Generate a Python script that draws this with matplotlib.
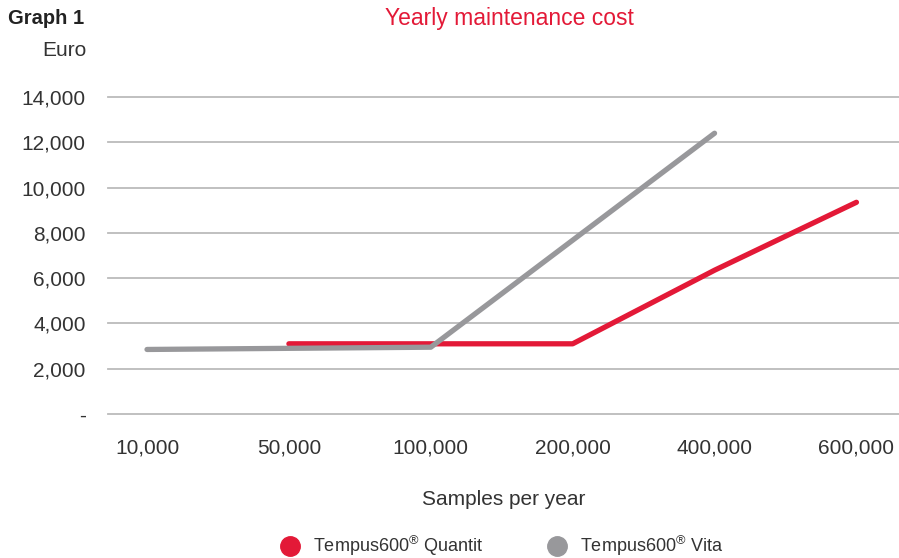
import matplotlib
matplotlib.use("Agg")
import matplotlib.pyplot as plt
from matplotlib.lines import Line2D
import numpy as np

plt.rcParams['font.family'] = ['Liberation Sans', 'DejaVu Sans']
plt.rcParams['mathtext.fontset'] = 'custom'
plt.rcParams['mathtext.rm'] = 'Liberation Sans'

categories = ["10,000", "50,000", "100,000", "200,000", "400,000", "600,000"]
quantit = [np.nan, 3100, 3100, 3100, 6350, 9350]
vita = [2850, 2900, 2950, np.nan, 12400, np.nan]
y_ticks = [0, 2000, 4000, 6000, 8000, 10000, 12000, 14000]
y_labels = ["-", "2,000", "4,000", "6,000", "8,000", "10,000", "12,000", "14,000"]

RED = "#E31937"
GRAY = "#98989B"
TXT = "#333333"

W, H = 899, 558
fig = plt.figure(figsize=(W/100, H/100), dpi=100)
ax = fig.add_axes([108/W, 1-414/H, (899-108)/W, (414-97)/H])

x = np.arange(len(categories))
vx = np.array([i for i, v in enumerate(vita) if not np.isnan(v)])
vy = np.array([v for v in vita if not np.isnan(v)])
qx = np.array([i for i, v in enumerate(quantit) if not np.isnan(v)])
qy = np.array([v for v in quantit if not np.isnan(v)])

ax.plot(qx, qy, color=RED, lw=3.8, solid_capstyle='round', solid_joinstyle='round', zorder=3)
ax.plot(vx, vy, color=GRAY, lw=3.8, solid_capstyle='round', solid_joinstyle='round', zorder=4)

ax.set_xlim(-0.275, 5.3)
ax.set_ylim(0, 14000)
ax.set_yticks(y_ticks)
ax.set_yticklabels(y_labels)
ax.set_xticks(x)
ax.set_xticklabels(categories)
for s in ax.spines.values():
    s.set_visible(False)
ax.tick_params(axis='both', length=0, labelsize=15, colors=TXT)
ax.tick_params(axis='y', pad=16)
ax.tick_params(axis='x', pad=18)
ax.yaxis.grid(True, color="#BBBBBB", lw=1.3)
ax.set_axisbelow(True)
for gl in ax.get_ygridlines():
    gl.set_clip_on(False)

ax.set_xlabel("Samples per year", fontsize=15, color=TXT, labelpad=23)

fig.text(509/W, 1-18/H, "Yearly maintenance cost", color=RED, fontsize=16.5, ha='center', va='center')
fig.text(8/W, 1-18/H, "Graph 1", color="#222222", fontsize=14.5, fontweight='bold', ha='left', va='center')
fig.text(86/W, 1-50/H, "Euro", color=TXT, fontsize=15, ha='right', va='center')

handles = [Line2D([], [], ls='none', marker='o', ms=14, color=RED),
           Line2D([], [], ls='none', marker='o', ms=14, color=GRAY)]
labels = ["Tempus600$^{\u00ae}$ Quantit", "Tempus600$^{\u00ae}$ Vita"]
fig.legend(handles, labels, loc='center', bbox_to_anchor=(502/W, 1-546/H), ncol=2,
           frameon=False, fontsize=13, handlelength=1.0, handletextpad=0.75,
           columnspacing=3.6, labelcolor=TXT)

fig.savefig("out.png", dpi=100)
